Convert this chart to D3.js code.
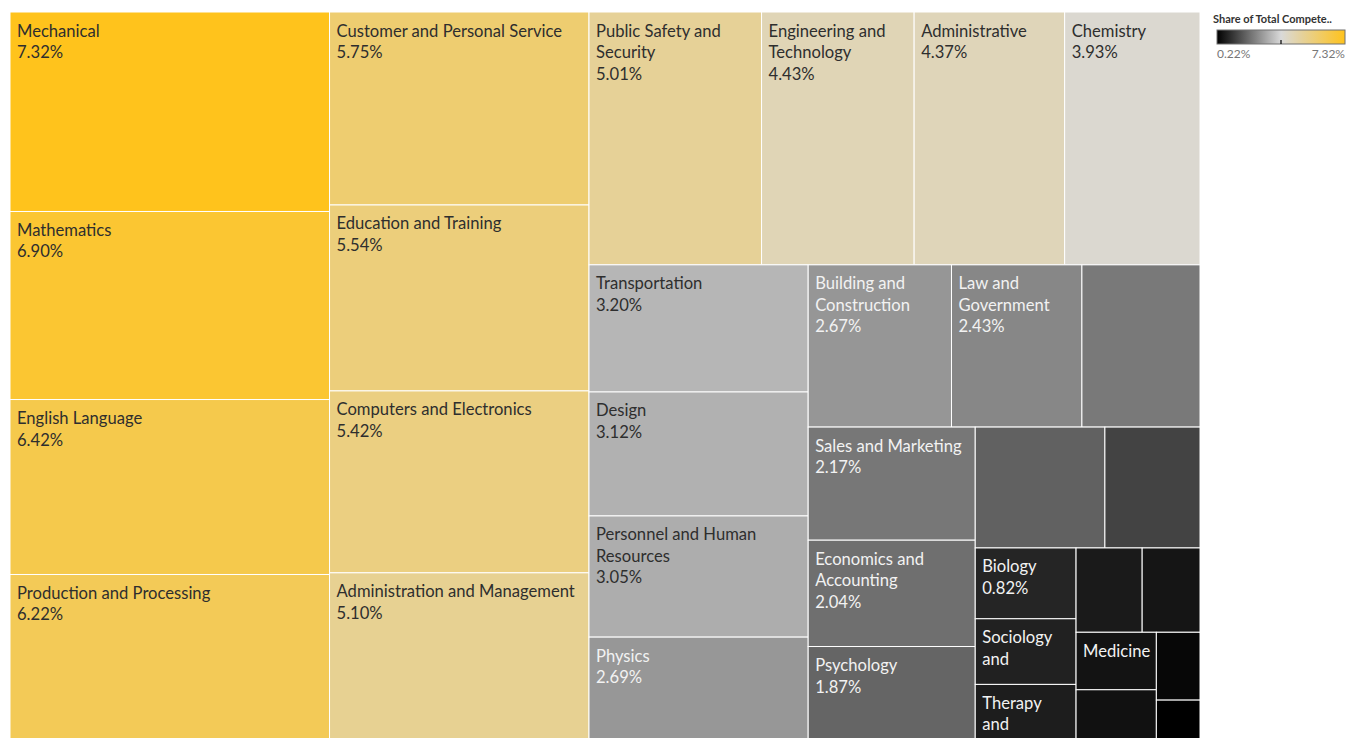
<!DOCTYPE html>
<html>
<head>
<meta charset="utf-8">
<style>
    body { margin: 0; background: #fff; }
    svg { display: block; }
    .cell text { font: 16.6px Lato, sans-serif; }
    .legend-title { font: bold 11px Lato, sans-serif; fill: #333; }
    .legend-label { font: 12px Lato, sans-serif; fill: #777; }
</style>
</head>
<body>
<script src="https://d3js.org/d3.v7.min.js"></script>
<svg width="1350" height="738"></svg>
<script>
    // knowledge areas, largest first
    var names = [
        "Mechanical", "Mathematics", "English Language", "Production and Processing",
        "Customer and Personal Service", "Education and Training", "Computers and Electronics", "Administration and Management",
        "Public Safety and Security", "Engineering and Technology", "Administrative", "Chemistry",
        "Transportation", "Design", "Personnel and Human Resources", "Physics",
        "Building and Construction", "Law and Government", "Telecommunications",
        "Sales and Marketing", "Economics and Accounting", "Psychology",
        "Communications and Media", "Foreign Language",
        "Biology", "Sociology and Anthropology", "Therapy and Counseling",
        "Geography", "Fine Arts", "Medicine and Dentistry", "Food Production",
        "History and Archeology", "Philosophy and Theology"
    ];
    // share of total competencies (%)
    var shares = [
        7.32, 6.90, 6.42, 6.22,
        5.75, 5.54, 5.42, 5.10,
        5.01, 4.43, 4.37, 3.93,
        3.20, 3.12, 3.05, 2.69,
        2.67, 2.43, 2.20,
        2.17, 2.04, 1.87,
        1.80, 1.32,
        0.82, 0.76, 0.69,
        0.64, 0.56, 0.53, 0.50,
        0.34, 0.22
    ];
    // marks whose label is not shown
    var unlabelled = [
        "Telecommunications", "Communications and Media", "Foreign Language", "Geography",
        "Fine Arts", "Food Production", "History and Archeology", "Philosophy and Theology"
    ];
    var legendTitle = "Share of Total Compete..";

    var svg = d3.select("svg");
    var offsetX = 10, offsetY = 12, width = 1190, height = 732;
    var fmt = function(v) { return d3.format(".2f")(v) + "%"; };

    var data = names.map(function(n, i) { return {name: n, share: shares[i]}; });
    var ext = d3.extent(shares);
    var mid = (ext[0] + ext[1]) / 2;

    var color = d3.scaleLinear()
        .domain([ext[0], mid, ext[1]])
        .range(["#000000", "#d9d9d9", "#ffc31c"]);

    var root = d3.hierarchy({children: data})
        .sum(function(d) { return d.share; })
        .sort(function(a, b) { return b.value - a.value; });

    d3.treemap()
        .tile(d3.treemapSquarify)
        .size([width, height])(root);

    var chart = svg.append("g")
        .attr("transform", "translate(" + offsetX + "," + offsetY + ")");

    // hidden text used to measure label widths
    var measure = chart.append("g").attr("class", "cell")
        .append("text").attr("visibility", "hidden");
    function textWidth(s) {
        measure.text(s);
        return measure.node().getComputedTextLength();
    }
    function wrapWords(name, maxW) {
        var lines = [], line = "";
        name.split(" ").forEach(function(w) {
            var test = line ? line + " " + w : w;
            if (line && textWidth(test) > maxW) { lines.push(line); line = w; }
            else line = test;
        });
        if (line) lines.push(line);
        return lines;
    }

    var cell = chart.selectAll(".leaf")
        .data(root.leaves())
        .enter().append("g")
        .attr("class", "cell leaf")
        .attr("transform", function(d) { return "translate(" + d.x0 + "," + d.y0 + ")"; });

    cell.append("rect")
        .attr("width", function(d) { return d.x1 - d.x0; })
        .attr("height", function(d) { return d.y1 - d.y0; })
        .attr("fill", function(d) { return color(d.data.share); })
        .attr("stroke", "#fff")
        .attr("stroke-width", 1);

    cell.append("title").text(function(d) { return d.data.name + ": " + fmt(d.data.share); });

    var lineH = 21.5;
    cell.filter(function(d) { return unlabelled.indexOf(d.data.name) < 0; })
        .each(function(d) {
            var w = d.x1 - d.x0, h = d.y1 - d.y0;
            var lines = wrapWords(d.data.name, w - 11).concat([fmt(d.data.share)]);
            lines = lines.filter(function(l, i) { return 6 + (i + 1) * 22 + 8 <= h; });
            var dark = d3.lab(color(d.data.share)).l > 67;
            var t = d3.select(this).append("text")
                .attr("fill", dark ? "#2e2e2e" : "#f2f2f2");
            t.selectAll("tspan")
                .data(lines)
                .enter().append("tspan")
                .attr("x", 7)
                .attr("y", function(l, i) { return 24.5 + i * lineH; })
                .text(function(l) { return l; });
        });

    // colour legend
    var lg = svg.append("g").attr("transform", "translate(1217,30)");
    var lw = 128, lh = 14;
    var grad = svg.append("defs").append("linearGradient")
        .attr("id", "legendGrad");
    grad.selectAll("stop")
        .data(d3.range(0, 1.0001, 0.05))
        .enter().append("stop")
        .attr("offset", function(t) { return t * 100 + "%"; })
        .attr("stop-color", function(t) { return color(ext[0] + t * (ext[1] - ext[0])); });

    svg.append("text")
        .attr("class", "legend-title")
        .attr("x", 1213).attr("y", 23)
        .text(legendTitle);

    var lx = d3.scaleLinear().domain(ext).range([0, lw]);
    lg.append("rect")
        .attr("width", lw).attr("height", lh)
        .attr("fill", "url(#legendGrad)")
        .attr("stroke", "#707070")
        .attr("stroke-width", 1);
    lg.append("line")
        .attr("x1", lx(mid)).attr("x2", lx(mid))
        .attr("y1", lh - 4).attr("y2", lh)
        .attr("stroke", "#000").attr("stroke-width", 1.2);
    lg.append("text")
        .attr("class", "legend-label")
        .attr("x", lx(ext[0])).attr("y", lh + 14)
        .text(fmt(ext[0]));
    lg.append("text")
        .attr("class", "legend-label")
        .attr("x", lx(ext[1])).attr("y", lh + 14)
        .attr("text-anchor", "end")
        .text(fmt(ext[1]));
</script>
</body>
</html>
